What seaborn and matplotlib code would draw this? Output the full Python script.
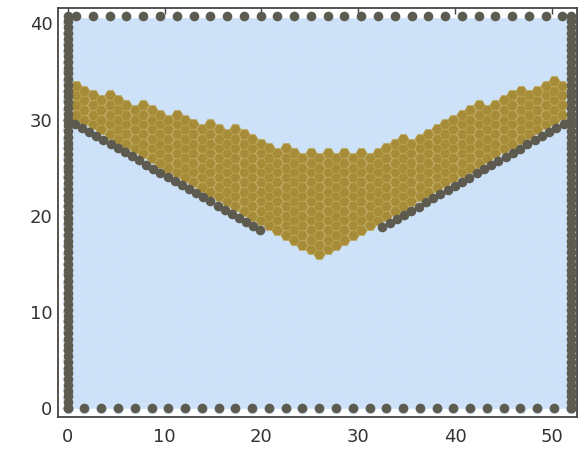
import numpy as np
import pandas as pd
import seaborn as sns
import matplotlib.pyplot as plt

# particle spacing and container box
dx = 1.0
box_x = [0.0, 51.96]
box_y = [0.0, 40.8]

# V shaped hopper, walls stop at the orifice (x ~ 20 .. 32.5)
hopper_x = [0.0, 25.98, 51.96]
hopper_y = [30.0, 15.0, 30.0]
left_wall = [(0.0, 30.0), (19.9, 18.5)]
right_wall = [(32.5, 18.8), (51.96, 30.0)]

# free surface of the gold layer (top edge)
surface_x = [0.0, 5.0, 11.0, 18.0, 23.0, 32.0, 38.0, 45.0, 51.96]
surface_y = [34.2, 32.6, 30.8, 29.0, 27.0, 27.0, 29.7, 32.8, 34.6]

xticks = [0, 10, 20, 30, 40, 50]
yticks = [0, 10, 20, 30, 40]

c_fluid = "#cde2f8"
c_grain = "#a68b38"
c_grain_edge = "#b9a253"
c_wall = "#5d5a4f"

# hex lattice, columns vertical
pts = []
hstep = np.sqrt(3) / 2 * dx
for k in range(61):
    x = k * hstep
    for j in range(42):
        y = j * dx + 0.5 * dx * (k % 2)
        if x > box_x[1] + 0.01 or y > box_y[1]:
            continue
        floor = np.interp(x, hopper_x, hopper_y) + 0.75
        top = np.interp(x, surface_x, surface_y) - 0.15
        grain = (0.4 < x < 51.6) and floor <= y <= top
        pts.append((x, y, "grain" if grain else "fluid"))
df = pd.DataFrame(pts, columns=["x", "y", "kind"])

# wall particles
walls = []
for y in np.linspace(box_y[0], box_y[1], 69):
    walls.append((box_x[0], y))
    walls.append((box_x[1], y))
for x in np.linspace(box_x[0], box_x[1], 31):
    walls.append((x, box_y[0]))
for x in np.linspace(0.87, 51.1, 30):
    walls.append((x, box_y[1]))
for (x0, y0), (x1, y1), n in [(left_wall[0], left_wall[1], 28), (right_wall[0], right_wall[1], 27)]:
    for t in np.linspace(0, 1, n):
        walls.append((x0 + t * (x1 - x0), y0 + t * (y1 - y0)))
wdf = pd.DataFrame(walls, columns=["x", "y"])

sns.set_style("white")
fig = plt.figure(figsize=(5.87, 4.49), dpi=100)
ax = fig.add_axes([58 / 587, 32 / 449, 519 / 587, 409 / 449])

sns.scatterplot(data=df[df.kind == "fluid"], x="x", y="y", marker="H", s=78,
                color=c_fluid, linewidth=0, ax=ax)
sns.scatterplot(data=df[df.kind == "grain"], x="x", y="y", marker="H", s=64,
                color=c_grain, edgecolor=c_grain_edge, linewidth=0.6, ax=ax)
sns.scatterplot(data=wdf, x="x", y="y", marker="o", s=48,
                color=c_wall, linewidth=0, ax=ax)

ax.set_xlim(-1.0, 52.6)
ax.set_ylim(-0.94, 41.6)
ax.set_xticks(xticks)
ax.set_yticks(yticks)
ax.set_xlabel("")
ax.set_ylabel("")
for s in ax.spines.values():
    s.set_color("#444444")
    s.set_linewidth(1.3)
ax.tick_params(direction="in", top=True, right=True, length=4, width=1,
               color="#444444", labelsize=13, labelcolor="#333333")
ax.tick_params(axis="x", pad=8)
ax.tick_params(axis="y", pad=4)

fig.savefig("out.png", dpi=100)
